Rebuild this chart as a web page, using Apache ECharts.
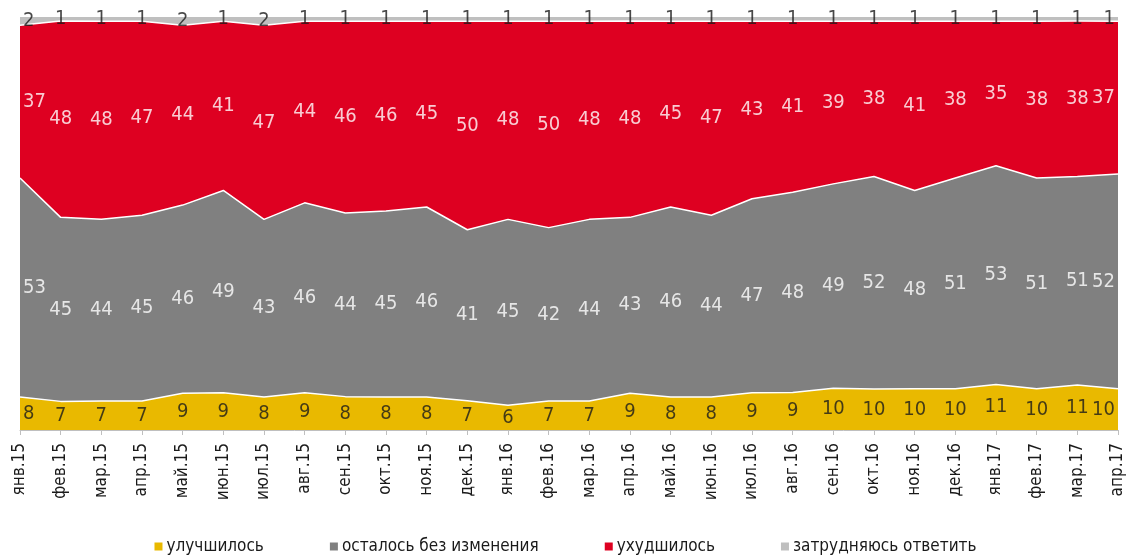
<!DOCTYPE html>
<html>
<head>
<meta charset="utf-8">
<script src="https://cdn.jsdelivr.net/npm/echarts@6/dist/echarts.min.js"></script>
<style>
  html, body { margin: 0; padding: 0; background: #fff; }
  #chart-container { width: 1131px; height: 557px; }
</style>
</head>
<body>
<div id="chart-container"></div>
<script>
var months = ["янв.15", "фев.15", "мар.15", "апр.15", "май.15", "июн.15", "июл.15", "авг.15", "сен.15", "окт.15", "ноя.15", "дек.15",
  "янв.16", "фев.16", "мар.16", "апр.16", "май.16", "июн.16", "июл.16", "авг.16", "сен.16", "окт.16", "ноя.16", "дек.16",
  "янв.17", "фев.17", "мар.17", "апр.17"];

var improved  = [8, 7, 7, 7, 9, 9, 8, 9, 8, 8, 8, 7, 6, 7, 7, 9, 8, 8, 9, 9, 10, 10, 10, 10, 11, 10, 11, 10];
var unchanged = [53, 45, 44, 45, 46, 49, 43, 46, 44, 45, 46, 41, 45, 42, 44, 43, 46, 44, 47, 48, 49, 52, 48, 51, 53, 51, 51, 52];
var worse     = [37, 48, 48, 47, 44, 41, 47, 44, 46, 46, 45, 50, 48, 50, 48, 48, 45, 47, 43, 41, 39, 38, 41, 38, 35, 38, 38, 37];
var dontKnow  = [2, 1, 1, 1, 2, 1, 2, 1, 1, 1, 1, 1, 1, 1, 1, 1, 1, 1, 1, 1, 1, 1, 1, 1, 1, 1, 1, 1];

var seriesNames = ["улучшилось", "осталось без изменения", "ухудшилось", "затрудняюсь ответить"];
var seriesColors = ["#e9b900", "#808080", "#de0021", "#bfbfbf"];
var labelColors = ["#1a1a1a", "#ffffff", "#ffffff", "#1a1a1a"];
var allData = [improved, unchanged, worse, dontKnow];

var FONT = "'Liberation Sans Narrow', 'DejaVu Sans Condensed', sans-serif";

var dom = document.getElementById("chart-container");
var myChart = echarts.init(dom, null, { renderer: "canvas" });

// 100% stacked: share of each answer per month
var totals = months.map(function (m, i) {
  return allData.reduce(function (s, arr) { return s + arr[i]; }, 0);
});
var shares = allData.map(function (arr) {
  return arr.map(function (v, i) { return (v / totals[i]) * 100; });
});

var series = [];
shares.forEach(function (arr, k) {
  series.push({
    name: seriesNames[k],
    type: "line",
    stack: "total",
    data: arr,
    symbol: "none",
    silent: true,
    z: 2,
    lineStyle: { color: "#ffffff", width: k === 3 ? 0 : 1.5 },
    areaStyle: { color: seriesColors[k], opacity: 1 },
    itemStyle: { color: seriesColors[k] }
  });
});

// labels in the middle of each band
shares.forEach(function (arr, k) {
  var pts = arr.map(function (v, i) {
    var below = 0;
    for (var j = 0; j < k; j++) below += shares[j][i];
    var item = { value: [i, below + v / 2, allData[k][i]] };
    if (i === 0) item.label = { align: "left", offset: [3, 0] };
    if (i === months.length - 1) item.label = { align: "right", offset: [-3, 0] };
    return item;
  });
  series.push({
    name: seriesNames[k] + "_lbl",
    type: "scatter",
    data: pts,
    symbolSize: 0,
    silent: true,
    z: 5,
    label: {
      show: true,
      position: "inside",
      color: labelColors[k],
      fontFamily: FONT,
      fontSize: 20,
      formatter: function (p) { return p.value[2]; }
    }
  });
});

var option = {
  animation: false,
  backgroundColor: "#ffffff",
  grid: { left: 20, right: 13, top: 17, bottom: 127 },
  legend: {
    data: seriesNames.map(function (n, k) {
      return { name: n, itemStyle: { color: seriesColors[k] } };
    }),
    top: 533,
    left: "center",
    icon: "rect",
    itemWidth: 8,
    itemHeight: 8,
    itemGap: 66,
    textStyle: { fontFamily: FONT, fontSize: 17, color: "#1a1a1a", padding: [0, 0, 0, -1] }
  },
  xAxis: {
    type: "category",
    data: months,
    boundaryGap: false,
    axisLine: { lineStyle: { color: "#bfbfbf", width: 1 } },
    axisTick: { show: true, length: 5, lineStyle: { color: "#bfbfbf" } },
    axisLabel: {
      rotate: 90,
      margin: 13,
      interval: 0,
      fontFamily: FONT,
      fontSize: 17,
      color: "#1a1a1a"
    }
  },
  yAxis: {
    type: "value",
    min: 0,
    max: 100,
    show: false
  },
  series: series
};

myChart.setOption(option);
window.addEventListener("resize", myChart.resize);
</script>
</body>
</html>
